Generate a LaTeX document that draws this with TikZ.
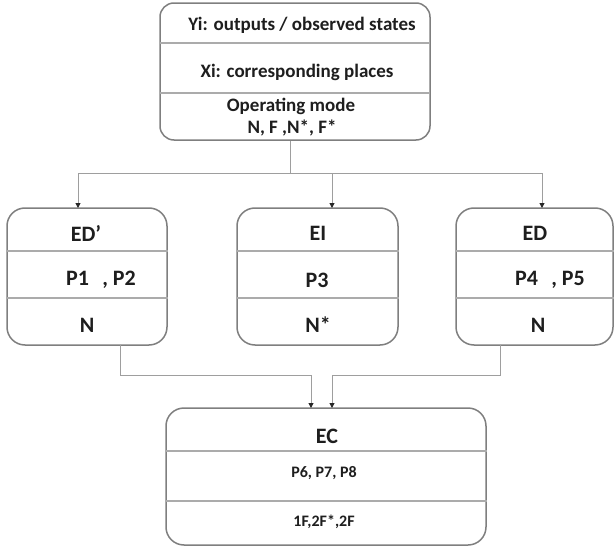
\documentclass[tikz,border=0pt]{standalone}
\usepackage{fontspec}
\setmainfont{Carlito}
\usetikzlibrary{arrows.meta}
\definecolor{boxline}{HTML}{7F7F7F}
\definecolor{divline}{HTML}{ABABAB}
\definecolor{connline}{HTML}{9E9E9E}
\definecolor{txt}{HTML}{1E1E1E}
\tikzset{
  box/.style={draw=boxline, line width=1.5pt, rounded corners=18pt, inner sep=0pt, fill=white},
  divider/.style={draw=divline, line width=1.2pt},
  conn/.style={draw=connline, line width=1pt},
  tip/.style={-{Triangle[width=5pt,length=5pt,color=black!85]}},
  lbl/.style={text=txt, font=\bfseries\fontsize{22}{26}\selectfont, inner sep=0pt},
  toplbl/.style={text=txt, font=\bfseries\fontsize{19}{23}\selectfont, inner sep=0pt},
  smalllbl/.style={text=txt, font=\bfseries\fontsize{16}{19}\selectfont, inner sep=0pt},
}
\begin{document}
\begin{tikzpicture}[x=1pt,y=-1pt]
\useasboundingbox (0,0) rectangle (614,546);

% ---- top box: outputs, places, operating mode
\node[box, rounded corners=14pt, minimum width=270pt, minimum height=137pt] (top) at (295,71.5) {};
\draw[divider] (160,43) -- (430,43) (160,93) -- (430,93);
\node[toplbl] (topA) at (302,25) {Yi: outputs / observed states};
\node[toplbl] (topB) at (297,72) {Xi: corresponding places};
\node[toplbl] (topC) at (291,106) {Operating mode};
\node[toplbl] (topD) at (292,128) {N, F ,N*, F*};

% ---- second row: ED', EI, ED
\node[box, minimum width=160pt, minimum height=137pt] (edp) at (87,276.5) {};
\node[box, minimum width=161pt, minimum height=137pt] (ei) at (317.5,276.5) {};
\node[box, minimum width=157pt, minimum height=137pt] (ed) at (534.5,276.5) {};
\foreach \b in {edp,ei,ed}{
  \draw[divider] (\b.west |- 0,251) -- (\b.east |- 0,251)
                 (\b.west |- 0,298) -- (\b.east |- 0,298);
}
\node[lbl] (edpA) at (86,233) {ED’};
\node[lbl] (edpB) at (101,280) {P1\hspace{0.6em}, P2};
\node[lbl] (edpC) at (87,325) {N};
\node[lbl] (eiA) at (318,233) {EI};
\node[lbl] (eiB) at (317,280) {P3};
\node[lbl] (eiC) at (318,325) {N*};
\node[lbl] (edA) at (535,233) {ED};
\node[lbl] (edB) at (550,280) {P4\hspace{0.6em}, P5};
\node[lbl] (edC) at (538,325) {N};

% ---- bottom box: EC
\node[box, minimum width=320pt, minimum height=137pt] (ec) at (326,476.5) {};
\draw[divider] (ec.west |- 0,451) -- (ec.east |- 0,451)
               (ec.west |- 0,501) -- (ec.east |- 0,501);
\node[lbl] (ecA) at (327,436) {EC};
\node[smalllbl] (ecB) at (324,473) {P6, P7, P8};
\node[smalllbl] (ecC) at (324,522) {1F,2F*,2F};

% ---- connectors from the top box to the three blocks
\coordinate (jt) at (290,173);
\coordinate (inL) at (78,208);
\coordinate (inM) at (332,208);
\coordinate (inR) at (542,208);
\draw[conn] (top.south -| jt) -- (jt);
\draw[conn, tip] (jt) -| (inL);
\draw[conn, tip] (jt) -| (inM);
\draw[conn, tip] (jt) -| (inR);

% ---- connectors from ED' and ED into EC
\coordinate (outL) at (120,345);
\coordinate (outR) at (500,345);
\coordinate (inEC1) at (311,408);
\coordinate (inEC2) at (332,408);
\coordinate (busB) at (0,375);
\draw[conn, tip] (outL) |- (busB -| inEC1) -- (inEC1);
\draw[conn, tip] (outR) |- (busB -| inEC2) -- (inEC2);
\end{tikzpicture}
\end{document}
